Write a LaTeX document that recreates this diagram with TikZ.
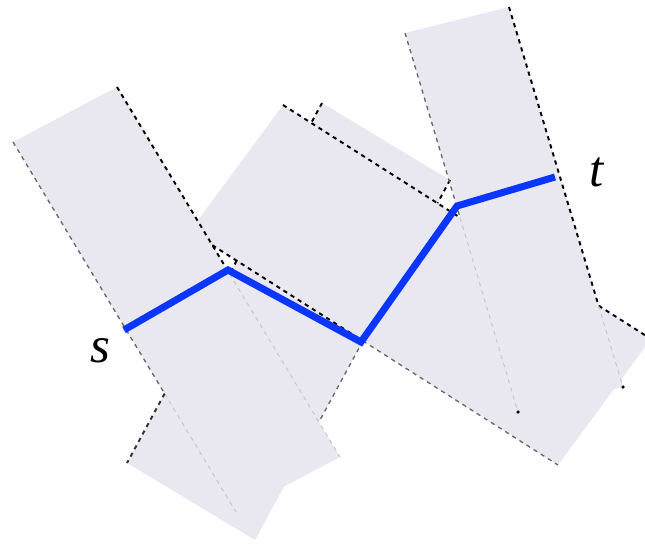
\documentclass[tikz,border=0pt]{standalone}
\usepackage{xcolor}
\usepackage{fontspec}
\usepackage{tikz}
\usetikzlibrary{calc}
\newfontfamily\labelfont{Liberation Serif}
\definecolor{strip}{HTML}{E9E8F0}
\definecolor{route}{HTML}{0A36FF}

\begin{document}
\begin{tikzpicture}[x=0.02cm, y=-0.02cm,
  band/.style={fill=strip, draw=none},
  rim/.style={dash pattern=on 2.4pt off 2.4pt, line width=1.1pt, color=black},
  dim/.style={rim, line width=0.75pt, color=black!60},
  ghost/.style={rim, line width=0.6pt, color=black!22},
  walk/.style={line width=4pt, color=route},
  lbl/.style={font=\labelfont\itshape\fontsize{29}{31}\selectfont, inner sep=0pt}
]
\useasboundingbox (0,0) rectangle (645,544);

\coordinate (r1a) at (13,142);  \coordinate (r1b) at (117,87);
\coordinate (r1c) at (340,457); \coordinate (r1d) at (236,512);
\coordinate (r3a) at (322,103); \coordinate (r3b) at (450,180);
\coordinate (r3c) at (255,540); \coordinate (r3d) at (127,463);
\coordinate (r2a) at (283,105); \coordinate (r2b) at (651,339);
\coordinate (r2c) at (558,465); \coordinate (r2d) at (190,231);
\coordinate (r4a) at (405,33);  \coordinate (r4b) at (509,7);
\coordinate (r4c) at (623,387); \coordinate (r4d) at (518,412);

\foreach \r in {r1,r3,r2,r4}
  \fill[band] (\r a) -- (\r b) -- (\r c) -- (\r d) -- cycle;

\coordinate (x1) at (intersection of r1a--r1d and r3a--r3d);
\coordinate (a1) at (intersection of r1b--r1c and r3a--r3d);
\coordinate (x2) at (intersection of r1b--r1c and r2d--r2c);
\coordinate (y1) at (intersection of r3a--r3d and r2a--r2b);
\coordinate (y2) at (intersection of r3a--r3d and r2d--r2c);
\coordinate (y3) at (intersection of r3b--r3c and r2a--r2b);
\coordinate (y4) at (intersection of r3b--r3c and r2d--r2c);
\coordinate (z1) at (intersection of r3b--r3c and r1b--r1c);
\coordinate (y5) at (intersection of r2a--r2b and r4a--r4d);
\coordinate (w1) at (intersection of r2a--r2b and r4b--r4c);

\draw[dim]   (r1a) -- (x1);
\draw[ghost] (x1) -- (r1d);
\draw[rim]   (r1b) -- (a1);
\draw[ghost] (a1) -- (r1c);

\draw[rim] (r3a) -- (y1);
\draw[rim] (y2) -- (a1);
\draw[rim, color=black!80] (x1) -- (r3d);
\draw[rim] (r3b) -- (y3);
\draw[dim] (y4) -- (z1);

\draw[rim] (r2a) -- (y5);
\draw[rim] (w1) -- (r2b);
\draw[rim] (x2) -- (y4);
\draw[dim] (y4) -- (r2c);

\draw[dim]   (r4a) -- (y5);
\draw[ghost] (y5) -- (r4d);
\draw[rim]   (r4b) -- (w1);
\draw[ghost] (w1) -- (r4c);
\fill (r4d) circle (1pt);
\fill (r4c) circle (1pt);

\coordinate (s) at (124,330);
\coordinate (a) at (228,270);
\coordinate (b) at (361,342);
\coordinate (c) at (457,206);
\coordinate (t) at (555,177);
\draw[walk] (s) -- (a) -- (b) -- (c) -- (t);

\node[lbl] (slabel) at (100,351) {s};
\node[lbl] (tlabel) at (597,172) {t};
\end{tikzpicture}
\end{document}
